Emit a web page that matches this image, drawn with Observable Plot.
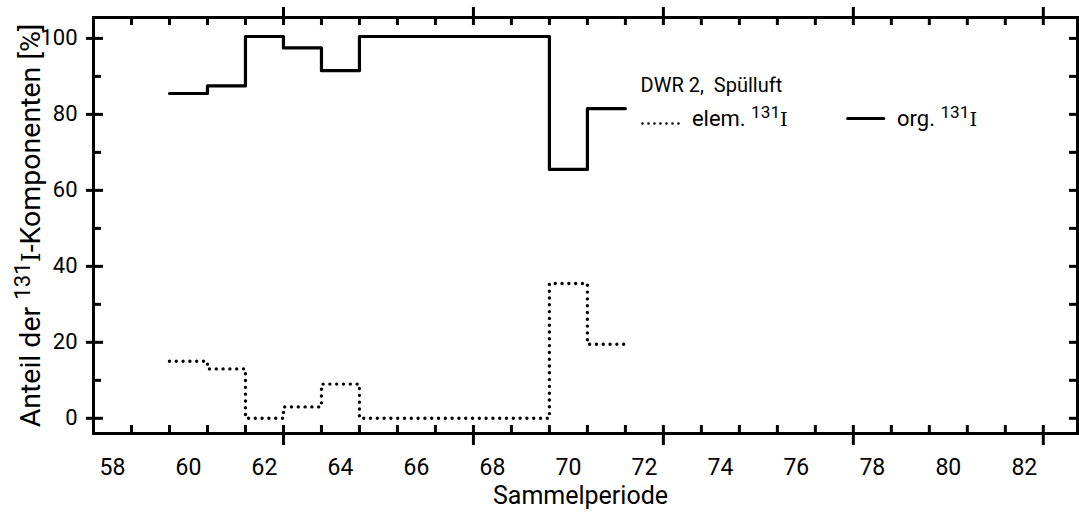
<!DOCTYPE html>
<html><head><meta charset="utf-8">
<script src="https://cdn.jsdelivr.net/npm/d3@7"></script>
<script src="https://cdn.jsdelivr.net/npm/@observablehq/plot@0.6"></script>
<style>body{margin:0;background:#fff} svg{display:block}</style>
</head><body><div id="chart"></div>
<script>
// ---- data ----
const periods    = [60, 61, 62, 63, 64, 65, 66, 67, 68, 69, 70, 71];
const orgValues  = [85.5, 87.5, 100.5, 97.5, 91.5, 100.5, 100.5, 100.5, 100.5, 100.5, 65.5, 81.5];
const elemValues = [15, 13, 0, 3, 9, 0, 0, 0, 0, 0, 35.5, 19.5];
const xTickLabels = [58, 60, 62, 64, 66, 68, 70, 72, 74, 76, 78, 80, 82];
const yTickLabels = [0, 20, 40, 60, 80, 100];
const yMinorTicks = [10, 30, 50, 70, 90];
const xMinorTicks = [58.5, 59.5, 60.5, 61.5, 63.5, 64.5, 65.5, 66.5, 68.5, 69.5, 70.5, 71.5, 73.5, 74.5, 75.5, 76.5, 78.5, 79.5, 80.5, 81.5];
const xMajorTicks = [62.5, 67.5, 72.5, 77.5, 82.5];
const seriesNames = ["elem. ¹³¹I", "org. ¹³¹I"];
const legendTitle = "DWR 2,  Spülluft";
const xTitle = "Sammelperiode";
const yTitle = "Anteil der ¹³¹I-Komponenten [%]";

// ---- layout ----
const W = 1079, H = 518, ML = 93, MR = 2, MT = 17, MB = 85;
const FW = W - ML - MR, FH = H - MT - MB;   // frame size in px
const X0 = 57.5, X1 = 83.4, Y0 = -4, Y1 = 105.5;
const ppx = FW / (X1 - X0), ppy = FH / (Y1 - Y0);   // px per unit
const FONT = "Roboto";
const legend = {x: 71.9, yTitle: 87.6, yRow: 78.9, yDots: 77.6,
  elemLine: [71.95, 73.0], elemText: 73.25, orgLine: [77.35, 78.3], orgText: 78.65};

function steps(vals, series) {
  return periods.flatMap((p, i) => [
    {x: p - 0.5, y: vals[i], series},
    {x: p + 0.5, y: vals[i], series}
  ]);
}
const elemData = steps(elemValues, seriesNames[0]);
const orgData = steps(orgValues, seriesNames[1]);

const tk = {stroke: "black", strokeWidth: 3};
const isMajorX = v => xMajorTicks.includes(v);
const isMajorY = v => yTickLabels.includes(v);
const xTicksAll = xMinorTicks.concat(xMajorTicks);
const yTicksAll = yTickLabels.concat(yMinorTicks);

const chart = Plot.plot({
  width: W, height: H,
  marginTop: MT, marginBottom: MB, marginLeft: ML, marginRight: MR,
  style: {fontFamily: FONT, color: "black", background: "white"},
  x: {domain: [X0, X1]},
  y: {domain: [Y0, Y1]},
  marks: [
    // axis labels
    Plot.axisY({anchor: "left", ticks: yTickLabels, tickSize: 0, tickPadding: 16, fontSize: 22, label: null}),
    Plot.axisX({anchor: "bottom", ticks: xTickLabels, tickSize: 0, tickPadding: 25, fontSize: 23, label: null}),
    // data
    Plot.line(orgData, {x: "x", y: "y", stroke: "black", strokeWidth: 3.2}),
    Plot.line(elemData, {x: "x", y: "y", stroke: "black", strokeWidth: 3.4, strokeDasharray: "0 6.8", strokeLinecap: "round"}),
    // legend
    Plot.text([legendTitle], {x: legend.x, y: legend.yTitle, text: d => d, textAnchor: "start", fontSize: 20}),
    Plot.line(legend.elemLine, {x: d => d, y: legend.yDots, stroke: "black", strokeWidth: 2.6, strokeDasharray: "0 6", strokeLinecap: "round"}),
    Plot.text([seriesNames[0]], {x: legend.elemText, y: legend.yRow, text: d => d, textAnchor: "start", fontSize: 22}),
    Plot.line(legend.orgLine, {x: d => d, y: legend.yRow, stroke: "black", strokeWidth: 3}),
    Plot.text([seriesNames[1]], {x: legend.orgText, y: legend.yRow, text: d => d, textAnchor: "start", fontSize: 22}),
    // titles
    Plot.text([xTitle], {frameAnchor: "bottom", dy: 70, dx: -5, text: d => d, fontSize: 25, textAnchor: "middle"}),
    Plot.text([yTitle], {frameAnchor: "left", rotate: -90, dx: -63, text: d => d, fontSize: 28.5, textAnchor: "middle"}),
    // frame and tick marks drawn last
    Plot.frame({stroke: "black", strokeWidth: 3}),
    Plot.ruleX(xTicksAll, {x: d => d, y1: d => isMajorX(d) ? Y0 - 12 / ppy : Y0, y2: Y0 + 8 / ppy, ...tk}),
    Plot.ruleX(xTicksAll, {x: d => d, y1: Y1 - 8 / ppy, y2: d => isMajorX(d) ? Y1 + 10 / ppy : Y1, ...tk}),
    Plot.ruleY(yTicksAll, {y: d => d, x1: d => isMajorY(d) ? X0 - 7 / ppx : X0, x2: d => X0 + (isMajorY(d) ? 10 : 8) / ppx, ...tk}),
    Plot.ruleY(yTicksAll, {y: d => d, x1: X1 - 8 / ppx, x2: X1, ...tk})
  ]
});

// render "¹³¹I" as raised, smaller "131" followed by a serif "I" (real text)
chart.querySelectorAll("text").forEach(t => {
  const s = t.textContent;
  if (!s.includes("¹³¹")) return;
  const [before, after] = s.split("¹³¹");
  while (t.firstChild) t.removeChild(t.firstChild);
  const ns = "http://www.w3.org/2000/svg";
  const a = document.createElementNS(ns, "tspan"); a.textContent = before;
  const b = document.createElementNS(ns, "tspan"); b.textContent = "131";
  b.setAttribute("font-size", "78%"); b.setAttribute("baseline-shift", "45%");
  const c = document.createElementNS(ns, "tspan"); c.textContent = after.slice(0, 1);
  c.setAttribute("font-family", "'DejaVu Serif', 'Liberation Serif', serif");
  c.setAttribute("font-size", "88%");
  const e = document.createElementNS(ns, "tspan"); e.textContent = after.slice(1);
  t.append(a, b, c, e);
});

document.getElementById("chart").append(chart);
</script>
</body></html>
